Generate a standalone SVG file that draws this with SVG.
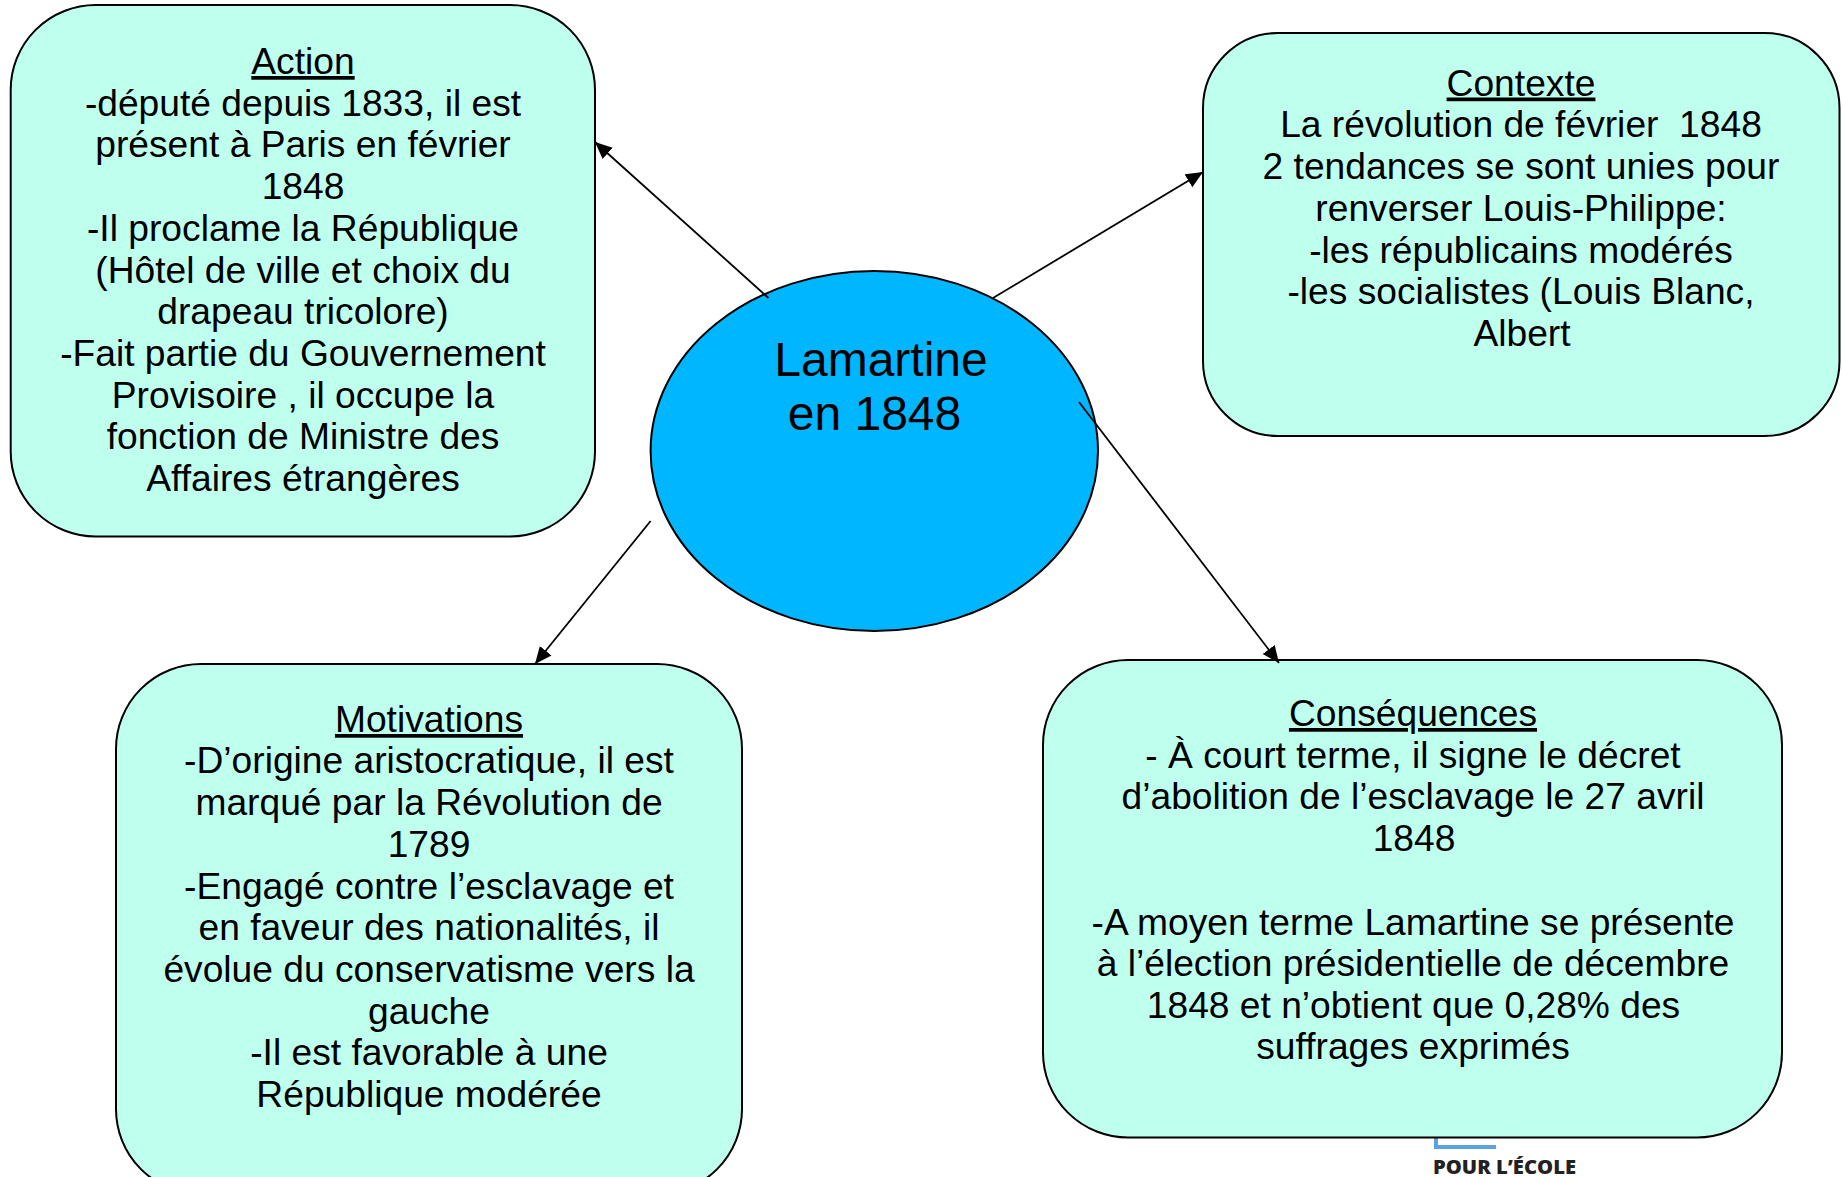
<svg xmlns="http://www.w3.org/2000/svg" width="1843" height="1177" viewBox="0 0 1843 1177">
<style>
.box{fill:#BFFFEE;stroke:#000;stroke-width:2}
.t{font-family:"Liberation Sans",Arial,sans-serif;font-size:37.2px;fill:#000;text-anchor:middle;white-space:pre}
.h{text-decoration:underline}
.c{stroke:#000;stroke-width:1.8;fill:none;marker-end:url(#a)}
</style>
<defs><marker id="a" markerUnits="userSpaceOnUse" markerWidth="19" markerHeight="16" refX="17" refY="8" orient="auto"><path d="M0 0.500L17 8L0 15.500Z" fill="#000"/></marker></defs>
<rect width="1843" height="1177" fill="#fff"/>
<g id="logo"><path d="M1436 1138V1147H1496" fill="none" stroke="#5BA3DC" stroke-width="4"/><text x="1433" y="1174" font-family="'Open Sans',sans-serif" font-weight="800" font-size="19" fill="#222" textLength="143" lengthAdjust="spacingAndGlyphs">POUR L’ÉCOLE</text></g>
<g id="action"><rect class="box" x="10.7" y="5" width="584.300" height="531.500" rx="85" ry="85"/>
<text class="t"><tspan class="h" x="303" y="74">Action</tspan><tspan x="303" y="116">-député depuis 1833, il est</tspan><tspan x="303" y="157">présent à Paris en février</tspan><tspan x="303" y="199">1848</tspan><tspan x="303" y="241">-Il proclame la République</tspan><tspan x="303" y="282.500">(Hôtel de ville et choix du</tspan><tspan x="303" y="324">drapeau tricolore)</tspan><tspan x="303" y="366">-Fait partie du Gouvernement</tspan><tspan x="303" y="408">Provisoire , il occupe la</tspan><tspan x="303" y="449">fonction de Ministre des</tspan><tspan x="303" y="491">Affaires étrangères</tspan></text></g>
<g id="contexte"><rect class="box" x="1203" y="33" width="636.500" height="403" rx="75" ry="75"/>
<text class="t"><tspan class="h" x="1521" y="95.500">Contexte</tspan><tspan x="1521" y="137">La révolution de février  1848</tspan><tspan x="1521" y="179">2 tendances se sont unies pour</tspan><tspan x="1521" y="220.500">renverser Louis-Philippe:</tspan><tspan x="1521" y="262.500">-les républicains modérés</tspan><tspan x="1521" y="304">-les socialistes (Louis Blanc,</tspan><tspan x="1522" y="345.500">Albert</tspan></text></g>
<g id="motivations"><rect class="box" x="116" y="664" width="626" height="530" rx="85" ry="85"/>
<text class="t"><tspan class="h" x="429" y="732">Motivations</tspan><tspan x="429" y="773">-D’origine aristocratique, il est</tspan><tspan x="429" y="815">marqué par la Révolution de</tspan><tspan x="429" y="857">1789</tspan><tspan x="429" y="899">-Engagé contre l’esclavage et</tspan><tspan x="429" y="940">en faveur des nationalités, il</tspan><tspan x="429" y="982">évolue du conservatisme vers la</tspan><tspan x="429" y="1024">gauche</tspan><tspan x="429" y="1065">-Il est favorable à une</tspan><tspan x="429" y="1107">République modérée</tspan></text></g>
<g id="consequences"><rect class="box" x="1043" y="660" width="739" height="477.500" rx="85" ry="85"/>
<text class="t"><tspan class="h" x="1413" y="726">Conséquences</tspan><tspan x="1413" y="768">- À court terme, il signe le décret</tspan><tspan x="1413" y="809">d’abolition de l’esclavage le 27 avril</tspan><tspan x="1414" y="851">1848</tspan><tspan x="1413" y="934.500">-A moyen terme Lamartine se présente</tspan><tspan x="1413" y="976">à l’élection présidentielle de décembre</tspan><tspan x="1413.500" y="1018">1848 et n’obtient que 0,28% des</tspan><tspan x="1413" y="1059">suffrages exprimés</tspan></text></g>
<g id="lamartine"><ellipse cx="874.300" cy="451" rx="223.700" ry="180" fill="#00B6FF" stroke="#000" stroke-width="2"/>
<text class="t" style="font-size:48px"><tspan x="881" y="376">Lamartine</tspan><tspan x="874.500" y="430">en 1848</tspan></text></g>
<g id="connectors"><line class="c" x1="768.500" y1="298" x2="595" y2="142"/><line class="c" x1="993" y1="298" x2="1203" y2="172"/><line class="c" x1="1079" y1="402" x2="1279" y2="663"/><line class="c" x1="650.600" y1="521" x2="535" y2="664"/></g>
</svg>
